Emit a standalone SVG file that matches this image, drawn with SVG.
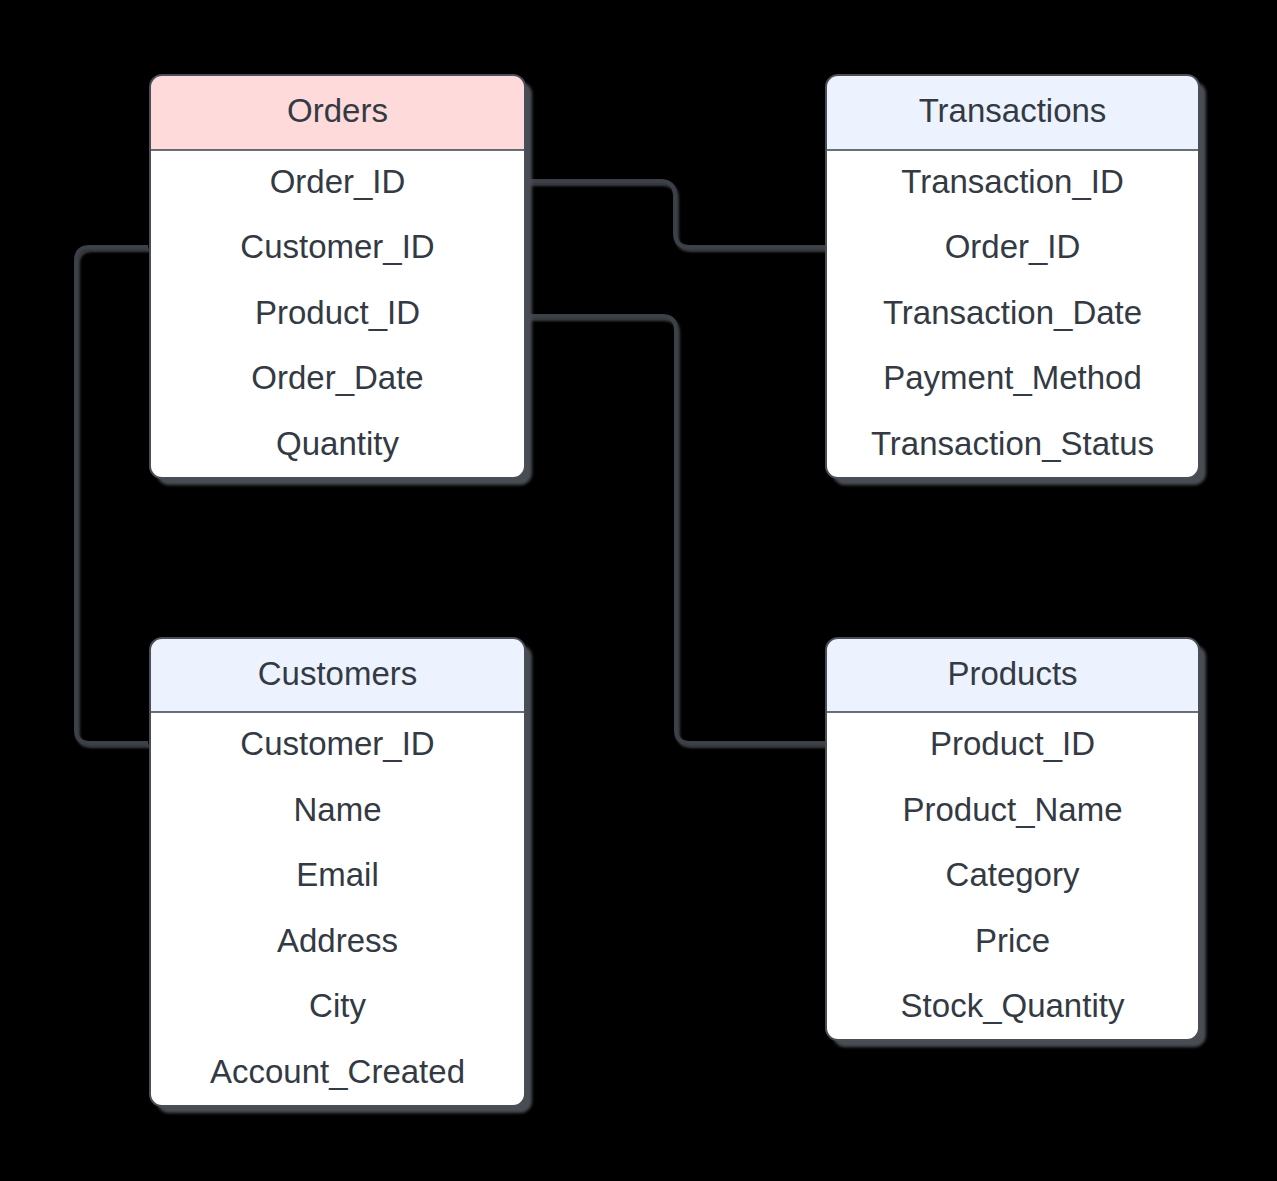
<svg xmlns="http://www.w3.org/2000/svg" width="1277" height="1181" viewBox="0 0 1277 1181">
<defs>
<filter id="sh" x="-10%" y="-10%" width="130%" height="130%">
<feDropShadow dx="7" dy="7" stdDeviation="1.5" flood-color="#4a4d52" flood-opacity="1"/>
</filter>
<filter id="lsh" x="-10%" y="-10%" width="130%" height="130%">
<feDropShadow dx="2" dy="3" stdDeviation="1.2" flood-color="#3a3c40" flood-opacity="1"/>
</filter>
<clipPath id="c1"><rect x="150" y="75" width="375" height="403" rx="12"/></clipPath>
<clipPath id="c2"><rect x="826" y="75" width="373" height="403" rx="12"/></clipPath>
<clipPath id="c3"><rect x="150" y="638" width="375" height="468" rx="12"/></clipPath>
<clipPath id="c4"><rect x="826" y="638" width="373" height="402" rx="12"/></clipPath>
</defs>
<style>
text{font-family:"Liberation Sans",Arial,sans-serif;font-size:33px;fill:#333a44;text-anchor:middle}
.box{fill:#ffffff;stroke:none}
.frame{fill:none;stroke:#4a4f57;stroke-width:2}
.sep{stroke:#3a414a;stroke-width:1.5}
.conn{fill:none;stroke:#3b4048;stroke-width:4;stroke-linejoin:round}
</style>
<rect width="1277" height="1181" fill="#000000"/>
<g id="connectors" filter="url(#lsh)">
<path class="conn" d="M527,181 L660,181 Q675,181 675,196 L675,233 Q675,247 690,247 L826,247"/>
<path class="conn" d="M148,247 L90,247 Q76,247 76,261 L76,730 Q76,743 90,743 L148,743"/>
<path class="conn" d="M527,316 L662,316 Q676,316 676,330 L676,730 Q676,743 690,743 L826,743"/>
</g>
<g id="orders">
<rect class="box" x="150" y="75" width="375" height="403" rx="12" filter="url(#sh)"/>
<rect x="150" y="75" width="375" height="75" fill="#ffdada" clip-path="url(#c1)"/>
<line class="sep" x1="150" y1="150" x2="525" y2="150"/>
<rect class="frame" x="150" y="75" width="375" height="403" rx="12"/>
<text x="337.5" y="122">Orders</text>
<text x="337.5" y="193">Order_ID</text>
<text x="337.5" y="258">Customer_ID</text>
<text x="337.5" y="324">Product_ID</text>
<text x="337.5" y="389">Order_Date</text>
<text x="337.5" y="455">Quantity</text>
</g>
<g id="transactions">
<rect class="box" x="826" y="75" width="373" height="403" rx="12" filter="url(#sh)"/>
<rect x="826" y="75" width="373" height="75" fill="#edf3fe" clip-path="url(#c2)"/>
<line class="sep" x1="826" y1="150" x2="1199" y2="150"/>
<rect class="frame" x="826" y="75" width="373" height="403" rx="12"/>
<text x="1012.5" y="122">Transactions</text>
<text x="1012.5" y="193">Transaction_ID</text>
<text x="1012.5" y="258">Order_ID</text>
<text x="1012.5" y="324">Transaction_Date</text>
<text x="1012.5" y="389">Payment_Method</text>
<text x="1012.5" y="455">Transaction_Status</text>
</g>
<g id="customers">
<rect class="box" x="150" y="638" width="375" height="468" rx="12" filter="url(#sh)"/>
<rect x="150" y="638" width="375" height="74" fill="#edf3fe" clip-path="url(#c3)"/>
<line class="sep" x1="150" y1="712" x2="525" y2="712"/>
<rect class="frame" x="150" y="638" width="375" height="468" rx="12"/>
<text x="337.5" y="685">Customers</text>
<text x="337.5" y="755">Customer_ID</text>
<text x="337.5" y="821">Name</text>
<text x="337.5" y="886">Email</text>
<text x="337.5" y="952">Address</text>
<text x="337.5" y="1017">City</text>
<text x="337.5" y="1083">Account_Created</text>
</g>
<g id="products">
<rect class="box" x="826" y="638" width="373" height="402" rx="12" filter="url(#sh)"/>
<rect x="826" y="638" width="373" height="74" fill="#edf3fe" clip-path="url(#c4)"/>
<line class="sep" x1="826" y1="712" x2="1199" y2="712"/>
<rect class="frame" x="826" y="638" width="373" height="402" rx="12"/>
<text x="1012.5" y="685">Products</text>
<text x="1012.5" y="755">Product_ID</text>
<text x="1012.5" y="821">Product_Name</text>
<text x="1012.5" y="886">Category</text>
<text x="1012.5" y="952">Price</text>
<text x="1012.5" y="1017">Stock_Quantity</text>
</g>
</svg>
